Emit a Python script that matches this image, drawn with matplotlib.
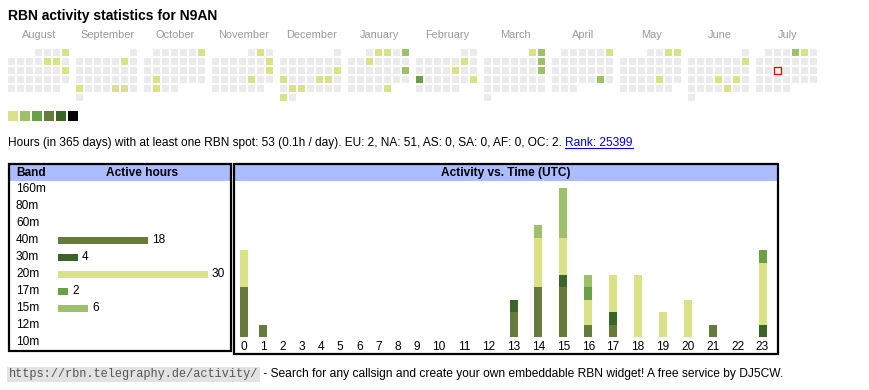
import datetime as dt
import numpy as np
import matplotlib
matplotlib.use("Agg")
import matplotlib.pyplot as plt
import matplotlib.transforms as mtransforms
from matplotlib.patches import Rectangle

plt.rcParams["font.family"] = ["Liberation Sans", "DejaVu Sans"]

# -----------------------------
# Data read off the widget
# -----------------------------

callsign = "N9AN"
first_month = (2024, 8)
today = dt.date(2025, 7, 16)

month_names = ["August", "September", "October", "November", "December", "January",
               "February", "March", "April", "May", "June", "July"]

# days with at least one spot, and the colour level of that day
active_dates = [
    "2024-08-04", "2024-08-09", "2024-08-10", "2024-08-18",
    "2024-09-07", "2024-09-23", "2024-09-27", "2024-09-28",
    "2024-10-06", "2024-10-22", "2024-10-29",
    "2024-11-02", "2024-11-10", "2024-11-17", "2024-11-22",
    "2024-12-15", "2024-12-16", "2024-12-20", "2024-12-21", "2024-12-24", "2024-12-25", "2024-12-30",
    "2025-01-02", "2025-01-03", "2025-01-05", "2025-01-08", "2025-01-19", "2025-01-31",
    "2025-02-08", "2025-02-14", "2025-02-17", "2025-02-23",
    "2025-03-01", "2025-03-02", "2025-03-09", "2025-03-16",
    "2025-04-06", "2025-04-26",
    "2025-05-03", "2025-05-04", "2025-05-23",
    "2025-06-08", "2025-06-19", "2025-06-21", "2025-06-27",
    "2025-07-04", "2025-07-05",
]
active_levels = [
    1, 1, 1, 1,
    1, 1, 1, 1,
    1, 1, 1,
    1, 1, 1, 1,
    1, 1, 1, 1, 1, 1, 1,
    1, 1, 2, 1, 2, 1,
    1, 1, 3, 1,
    1, 2, 2, 2,
    1, 2,
    1, 1, 1,
    1, 1, 1, 1,
    2, 1,
]

bands = ["160m", "80m", "60m", "40m", "30m", "20m", "17m", "15m", "12m", "10m"]
band_hours = [0, 0, 0, 18, 4, 30, 2, 6, 0, 0]

utc_hours = [str(h) for h in range(24)]
#            0  1  2  3  4  5  6  7  8  9 10 11 12 13 14 15 16 17 18 19 20 21 22 23
act_40m = [4, 1, 0, 0, 0, 0, 0, 0, 0, 0, 0, 0, 0, 2, 4, 4, 1, 1, 0, 0, 0, 1, 0, 0]
act_30m = [0, 0, 0, 0, 0, 0, 0, 0, 0, 0, 0, 0, 0, 1, 0, 1, 0, 1, 0, 0, 0, 0, 0, 1]
act_20m = [3, 0, 0, 0, 0, 0, 0, 0, 0, 0, 0, 0, 0, 0, 4, 3, 2, 3, 5, 2, 3, 0, 0, 5]
act_17m = [0, 0, 0, 0, 0, 0, 0, 0, 0, 0, 0, 0, 0, 0, 0, 0, 1, 0, 0, 0, 0, 0, 0, 1]
act_15m = [0, 0, 0, 0, 0, 0, 0, 0, 0, 0, 0, 0, 0, 0, 1, 4, 1, 0, 0, 0, 0, 0, 0, 0]

total_hours = 53
hours_per_day = 0.1
continents = ["EU", "NA", "AS", "SA", "AF", "OC"]
continent_hours = [2, 51, 0, 0, 0, 2]
rank = 25399

# -----------------------------
# Styles
# -----------------------------

level_colors = ["#ebebeb", "#d9e287", "#9dc06a", "#69a045", "#657a3b", "#3b6528", "#000000"]
band_colors = {"160m": "#000000", "80m": "#3b6528", "60m": "#657a3b", "40m": "#657a3b",
               "30m": "#3b6528", "20m": "#d9e287", "17m": "#69a045", "15m": "#9dc06a",
               "12m": "#d9e287", "10m": "#9dc06a"}
header_blue = "#abbcff"
W, H = 870, 390


def fig_rect(x0, y0, x1, y1):
    # pixel box (top-left origin) -> figure fraction rect
    return [x0 / W, (H - y1) / H, (x1 - x0) / W, (y1 - y0) / H]


fig = plt.figure(figsize=(W / 100, H / 100), dpi=100)
canvas = fig.add_axes([0, 0, 1, 1])
canvas.set_xlim(0, W)
canvas.set_ylim(H, 0)
canvas.axis("off")

canvas.text(8, 20, f"RBN activity statistics for {callsign}", fontsize=10.0,
            fontweight="bold", va="baseline")

# -----------------------------
# Calendar
# -----------------------------

levels_by_day = {dt.date.fromisoformat(d): l for d, l in zip(active_dates, active_levels)}
y0, m0 = first_month
for i, name in enumerate(month_names):
    year = y0 + (m0 - 1 + i) // 12
    month = (m0 - 1 + i) % 12 + 1
    first = dt.date(year, month, 1)
    nxt = dt.date(year + month // 12, month % 12 + 1, 1)
    left = 8 + 68 * i
    canvas.text(left + 31.5, 38.5, name, fontsize=7.9, color="#999999",
                ha="center", va="baseline")
    for d in range((nxt - first).days):
        day = first + dt.timedelta(days=d)
        week = (d + first.weekday()) // 7
        x = left + 9 * day.weekday()
        y = 49 + 9 * week
        if day == today:
            canvas.add_patch(Rectangle((x, y), 7, 7, facecolor="white",
                                       edgecolor="#ee0000", lw=1.0))
        else:
            canvas.add_patch(Rectangle((x, y), 7, 7, lw=0,
                                       facecolor=level_colors[levels_by_day.get(day, 0)]))

for k in range(1, 7):
    canvas.add_patch(Rectangle((8 + 12 * (k - 1), 110.5), 10, 10, lw=0,
                               facecolor=level_colors[k]))

# -----------------------------
# Summary line
# -----------------------------

cont = ", ".join(f"{c}: {v}" for c, v in zip(continents, continent_hours))
summary = canvas.text(8, 146, f"Hours (in 365 days) with at least one RBN spot: "
                      f"{total_hours} ({hours_per_day}h / day). {cont}.",
                      fontsize=8.58, va="baseline")
link = canvas.annotate(f"Rank: {rank}", xy=(1, 0), xycoords=summary,
                       xytext=(2.6, 0), textcoords="offset points",
                       fontsize=8.58, color="#0000ee", va="bottom")

# -----------------------------
# Band table
# -----------------------------

canvas.add_patch(Rectangle((10, 165), 221, 16, facecolor=header_blue, lw=0))
canvas.add_patch(Rectangle((9, 164), 222, 187, fill=False, edgecolor="black", lw=1.6))
canvas.text(16, 173, "Band", fontsize=8.6, fontweight="bold", va="center")
canvas.text(142, 173, "Active hours", fontsize=8.6, fontweight="bold",
            va="center", ha="center")

ax_band = fig.add_axes(fig_rect(58, 180.5, 228, 350.5))
ax_band.patch.set_visible(False)
ax_band.axis("off")
ax_band.set_xlim(0, 34)
ax_band.set_ylim(len(bands) - 0.5, -0.5)
ax_band.barh(range(len(bands)), band_hours, height=7 / 17,
             color=[band_colors[b] for b in bands])
lbl_tr = mtransforms.blended_transform_factory(canvas.transData, ax_band.transData)
for i, (b, v) in enumerate(zip(bands, band_hours)):
    ax_band.text(16, i, b, transform=lbl_tr, fontsize=8.6, va="center")
    if v:
        ax_band.text(v + 0.8, i, str(v), fontsize=8.6, va="center")

# -----------------------------
# Activity vs time
# -----------------------------

canvas.add_patch(Rectangle((235, 165), 542, 16, facecolor=header_blue, lw=0))
canvas.add_patch(Rectangle((234, 164), 544, 190, fill=False, edgecolor="black", lw=1.6))
canvas.text(506, 173, "Activity vs. Time (UTC)", fontsize=8.6, fontweight="bold",
            va="center", ha="center")

# html table columns: two-digit labels get wider cells
col_w = np.array([19.2 if len(h) == 1 else 24.9 for h in utc_hours])
centers = 234.4 + np.cumsum(col_w) - col_w / 2

ax_act = fig.add_axes(fig_rect(235, 181, 776, 337))
ax_act.patch.set_visible(False)
ax_act.set_xlim(235, 776)
ax_act.set_ylim(0, 156 / 12.39)
bottom = np.zeros(len(utc_hours))
for band, series in [("40m", act_40m), ("30m", act_30m), ("20m", act_20m),
                     ("17m", act_17m), ("15m", act_15m)]:
    vals = np.array(series)
    ax_act.bar(centers, vals, width=8, bottom=bottom, color=band_colors[band], lw=0)
    bottom += vals
ax_act.set_xticks(centers, utc_hours, fontsize=8.6)
ax_act.tick_params(axis="x", length=0, pad=3)
ax_act.set_yticks([])
for s in ax_act.spines.values():
    s.set_visible(False)

# -----------------------------
# Footer
# -----------------------------

url = canvas.text(9, 374.5, "https://rbn.telegraphy.de/activity/", family="Liberation Mono",
                  fontsize=8.55, color="#555555", va="center",
                  bbox=dict(facecolor="#e2e2e2", edgecolor="none", pad=1.2))
canvas.annotate(" - Search for any callsign and create your own embeddable RBN widget! "
                "A free service by DJ5CW.", xy=(1, 0.5), xycoords=url,
                xytext=(1.5, 0), textcoords="offset points", fontsize=8.65, va="center")

# underline the rank link
fig.canvas.draw()
bb = link.get_window_extent()
inv = canvas.transData.inverted()
(lx0, ly0), (lx1, _) = inv.transform([[bb.x0, bb.y0], [bb.x1, bb.y0]])
canvas.plot([lx0, lx1], [ly0 - 1.5, ly0 - 1.5], color="#0000ee", lw=0.8)

fig.savefig("out.png", dpi=100)
